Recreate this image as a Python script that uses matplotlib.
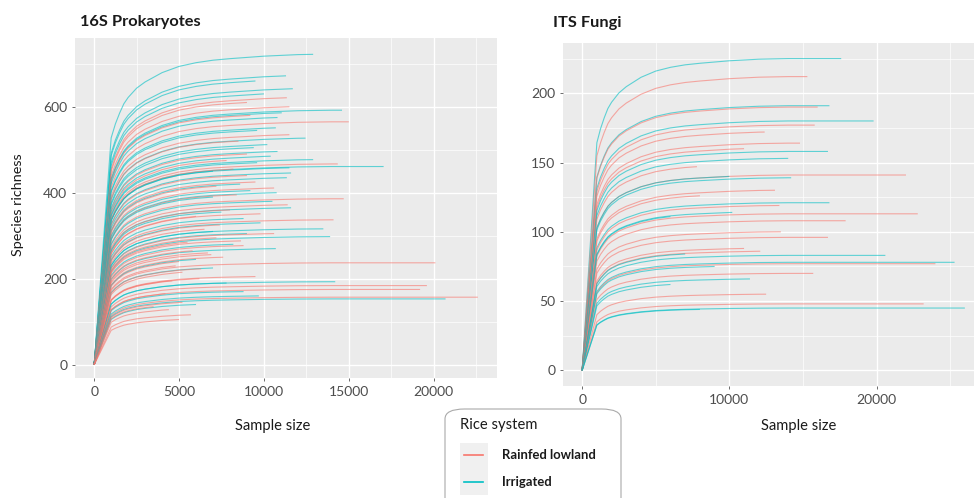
#!/usr/bin/env python3
# coding: UTF-8

import numpy as np
import matplotlib
matplotlib.use('Agg')
import matplotlib.pyplot as plt
from matplotlib.patches import FancyBboxPatch, Rectangle
from matplotlib.lines import Line2D

RED = '#F8766D'
CYAN = '#00BFC4'

# shared rarefaction shape (reads -> share of final richness)
profile_reads = [0, 1000, 1250, 1500, 1750, 2000, 2500, 3000, 4000, 5000, 6000, 7000, 8000, 10000, 12000, 14000, 30000]
profile_frac = [0, 0.73, 0.775, 0.81, 0.84, 0.86, 0.89, 0.91, 0.94, 0.96, 0.972, 0.98, 0.985, 0.993, 0.998, 1.0, 1.0]

# 16S Prokaryotes: final richness, sample depth, rice system (R = rainfed lowland, I = irrigated)
pro_rich = [722, 672, 660, 642, 621, 630, 610, 600, 592, 586, 580, 575, 565, 551, 545, 535, 527, 520,
            512, 505, 496, 490, 485, 477, 475, 467, 470, 461, 458, 455, 450, 446, 440, 435, 425, 420,
            415, 411, 405, 400, 395, 390, 386, 380, 372, 365, 360, 355, 351, 345, 340, 337, 330, 325,
            316, 315, 310, 305, 305, 298, 295, 288, 285, 280, 277, 270, 265, 260, 256, 250, 245, 240,
            237, 230, 225, 223, 215, 205, 200, 193, 195, 190, 184, 175, 170, 165, 160, 157, 153, 145,
            140, 135, 128, 116, 105]
pro_depth = [12900, 11300, 9500, 11700, 11350, 10000, 9000, 11500, 14600, 11050, 9200, 10800, 15000, 10700, 9600, 11500, 12450, 8500,
             10200, 9400, 10800, 9000, 10400, 12900, 7800, 14350, 9600, 17050, 11500, 8200, 7000, 11600, 9000, 11350, 9500, 8600,
             7200, 10600, 9200, 10750, 8400, 7000, 14700, 10500, 11400, 11600, 8000, 7500, 9800, 6000, 8800, 14100, 9800, 7400,
             13500, 6500, 7000, 9000, 10600, 13900, 7200, 8650, 5500, 8200, 8800, 10700, 5800, 6700, 6900, 7600, 6000, 5000,
             20100, 4800, 7000, 6300, 5200, 9500, 6200, 14200, 4600, 7800, 19600, 19200, 8800, 4200, 9700, 22600, 20700, 5200,
             6000, 3500, 4400, 5700, 5000]
pro_group = ['I', 'I', 'I', 'I', 'R', 'I', 'R', 'R', 'I', 'I', 'R', 'I', 'R', 'I', 'I', 'R', 'I', 'R',
             'I', 'I', 'I', 'R', 'I', 'I', 'R', 'R', 'I', 'I', 'I', 'R', 'I', 'I', 'R', 'I', 'R', 'I',
             'R', 'R', 'I', 'I', 'R', 'I', 'R', 'I', 'R', 'I', 'R', 'I', 'R', 'R', 'I', 'R', 'I', 'R',
             'I', 'R', 'I', 'I', 'R', 'I', 'R', 'R', 'R', 'I', 'R', 'I', 'R', 'R', 'R', 'R', 'I', 'R',
             'R', 'R', 'I', 'R', 'R', 'R', 'R', 'I', 'R', 'I', 'R', 'R', 'I', 'R', 'I', 'R', 'I', 'R',
             'I', 'R', 'R', 'R', 'R']

# ITS Fungi
fun_rich = [225, 212, 191, 190, 180, 177, 172, 164, 160, 158, 153, 147, 141, 139, 140, 130, 126, 121, 119,
            114, 113, 108, 111, 100, 96, 86, 88, 83, 84, 78, 77, 75, 70, 66, 62, 55, 48, 45, 44]
fun_depth = [17600, 15300, 16800, 16000, 19800, 15800, 12400, 14800, 11000, 16700, 14000, 7800, 22000, 14200, 10000, 13100, 8000, 16800, 13400,
             10200, 22800, 17900, 6000, 13500, 16700, 12100, 11000, 20600, 7000, 25300, 24000, 9000, 15700, 11400, 6000, 12500, 23200, 26000, 8000]
fun_group = ['I', 'R', 'I', 'R', 'I', 'R', 'R', 'R', 'R', 'I', 'I', 'R', 'R', 'I', 'I', 'R', 'R', 'I', 'R',
             'I', 'R', 'R', 'I', 'R', 'R', 'R', 'R', 'I', 'I', 'I', 'R', 'I', 'R', 'I', 'I', 'R', 'R', 'I', 'I']


def draw_curves(ax, rich, depth, group):
    reads = np.array(profile_reads, dtype=float)
    frac = np.array(profile_frac)
    for r, d, g in zip(rich, depth, group):
        keep = reads < d
        xs = np.append(reads[keep], d)
        ys = np.append(frac[keep], np.interp(d, reads, frac))
        ys = ys / ys[-1] * r
        ax.plot(xs, ys, color=RED if g == 'R' else CYAN, lw=0.8, alpha=0.6,
                solid_capstyle='butt')


def style_panel(ax, xticks, xminor, yticks, yminor):
    ax.set_facecolor('#EBEBEB')
    for s in ax.spines.values():
        s.set_visible(False)
    ax.set_xticks(xticks)
    ax.set_xticks(xminor, minor=True)
    ax.set_yticks(yticks)
    ax.set_yticks(yminor, minor=True)
    ax.grid(which='major', color='white', lw=1.0)
    ax.grid(which='minor', color='white', lw=0.5)
    ax.set_axisbelow(True)
    ax.tick_params(which='major', length=2.5, width=0.6, color='#555555',
                   labelcolor='#4D4D4D', labelsize=10, pad=3)
    ax.tick_params(which='minor', length=0)


def main():
    plt.rcParams['font.family'] = ['Lato', 'DejaVu Sans']

    fig = plt.figure(figsize=(9.74, 4.98), dpi=100)

    ax1 = fig.add_axes([75 / 974, 1 - 378 / 498, 422 / 974, 340 / 498])
    draw_curves(ax1, pro_rich, pro_depth, pro_group)
    ax1.set_xlim(-1130, 23730)
    ax1.set_ylim(-31, 760)
    style_panel(ax1, [0, 5000, 10000, 15000, 20000], [2500, 7500, 12500, 17500, 22500],
                [0, 200, 400, 600], [100, 300, 500, 700])

    ax2 = fig.add_axes([563 / 974, 1 - 386 / 498, 421 / 974, 343 / 498])
    draw_curves(ax2, fun_rich, fun_depth, fun_group)
    ax2.set_xlim(-1300, 27300)
    ax2.set_ylim(-11.25, 236.25)
    style_panel(ax2, [0, 10000, 20000], [5000, 15000, 25000],
                [0, 50, 100, 150, 200], [25, 75, 125, 175, 225])

    # titles and axis labels
    fig.text(80 / 974, 1 - 22 / 498, '16S Prokaryotes', fontsize=11.8, fontweight='bold',
             ha='left', va='center', color='#1A1A1A')
    fig.text(553 / 974, 1 - 23 / 498, 'ITS Fungi', fontsize=11.8, fontweight='bold',
             ha='left', va='center', color='#1A1A1A')
    fig.text(18 / 974, 1 - 205 / 498, 'Species richness', rotation=90, fontsize=10.4,
             ha='center', va='center', color='#1A1A1A')
    fig.text(273 / 974, 1 - 426 / 498, 'Sample size', fontsize=10.6,
             ha='center', va='center', color='#1A1A1A')
    fig.text(799 / 974, 1 - 426 / 498, 'Sample size', fontsize=10.6,
             ha='center', va='center', color='#1A1A1A')

    # legend box
    box = FancyBboxPatch((445 / 974, -10 / 498), 176 / 974, 99 / 498,
                         boxstyle='round,pad=0,rounding_size=0.02',
                         transform=fig.transFigure, facecolor='white',
                         edgecolor='#AAAAAA', lw=0.8)
    fig.patches.append(box)
    fig.text(460 / 974, 1 - 425 / 498, 'Rice system', fontsize=10.6,
             ha='left', va='center', color='#1A1A1A')
    fig.patches.append(Rectangle((460 / 974, 1 - 495 / 498), 28 / 974, 52 / 498,
                                 transform=fig.transFigure, facecolor='#F0F0F0',
                                 edgecolor='none'))
    for yy, col, lab in [(455, RED, 'Rainfed lowland'), (482, CYAN, 'Irrigated')]:
        fig.lines.append(Line2D([464 / 974, 483 / 974], [1 - yy / 498, 1 - yy / 498],
                                transform=fig.transFigure, color=col, lw=1.2))
        fig.text(502 / 974, 1 - yy / 498, lab, fontsize=9.4, fontweight='bold',
                 ha='left', va='center', color='#1A1A1A')

    fig.savefig('out.png', dpi=100)


if __name__ == '__main__':
    main()
